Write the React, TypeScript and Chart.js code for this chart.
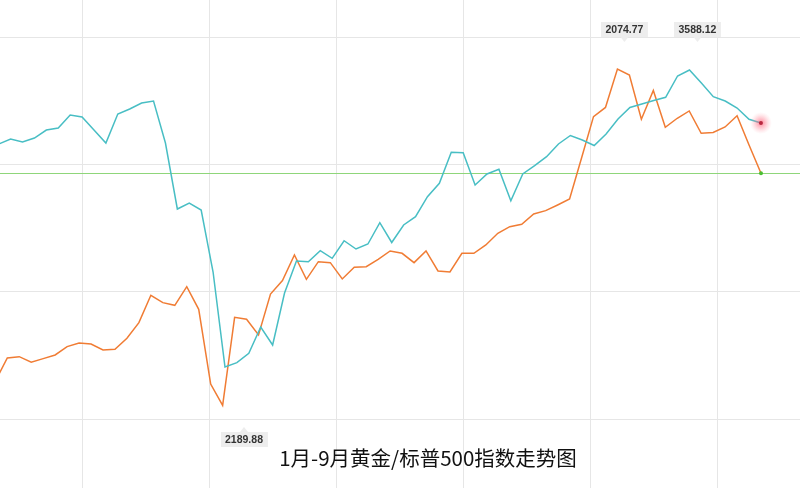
import React, { useEffect, useRef } from "react";
import { Chart, registerables } from "chart.js";

Chart.register(...registerables);

// 标普500 (teal) sampled values, Jan–Sept
const spValues = [
  3239.7, 3263.2, 3249.1, 3268.0, 3305.6, 3315.0, 3376.2, 3366.8, 3305.6, 3244.4,
  3380.9, 3404.5, 3432.7, 3442.2, 3244.4, 2933.7, 2961.9, 2929.0, 2637.1, 2189.88,
  2210.1, 2254.3, 2378.1, 2293.4, 2538.2, 2688.9, 2685.6, 2737.4, 2701.6, 2784.4,
  2745.4, 2768.9, 2869.2, 2776.0, 2858.4, 2897.4, 2991.6, 3054.7, 3200.6, 3198.8,
  3046.7, 3098.5, 3120.6, 2972.8, 3098.5, 3137.5, 3179.9, 3239.7, 3279.7, 3258.5,
  3232.6, 3286.8, 3357.4, 3411.5, 3428.0, 3444.5, 3459.6, 3559.9, 3588.12, 3526.9,
  3462.4, 3442.2, 3409.2, 3356.0, 3338.6,
];

// 黄金 (orange) sampled values, Jan–Sept
const goldValues = [
  1497.6, 1540.1, 1542.6, 1532.2, 1538.9, 1545.7, 1561.1, 1567.9, 1566.0, 1554.9,
  1556.2, 1576.6, 1605.5, 1656.1, 1642.5, 1637.6, 1672.1, 1630.2, 1492.0, 1452.3,
  1615.4, 1611.7, 1582.7, 1658.5, 1683.5, 1730.7, 1685.7, 1718.3, 1716.5, 1686.3,
  1707.9, 1709.1, 1722.7, 1738.1, 1733.8, 1716.5, 1738.1, 1701.1, 1699.2, 1733.8,
  1733.8, 1749.2, 1770.8, 1783.1, 1787.5, 1806.5, 1812.7, 1823.2, 1834.3, 1910.1,
  1986.6, 2003.6, 2074.77, 2063.7, 1981.9, 2035.0, 1966.9, 1983.6, 1997.1, 1955.8,
  1957.3, 1967.5, 1988.4, 1934.2, 1881.8,
];

const spMaxLabel = "3588.12";
const spMinLabel = "2189.88";
const goldMaxLabel = "2074.77";
const titleText = "1月-9月黄金/标普500指数走势图";

const TEAL = "rgb(72,190,196)";
const ORANGE = "rgb(240,124,52)";

function drawTag(ctx: CanvasRenderingContext2D, text: string, cx: number, top: number, arrowUp: boolean) {
  ctx.save();
  ctx.font = 'bold 10.5px "Liberation Sans", Arial, sans-serif';
  const w = ctx.measureText(text).width + 9;
  const h = 15;
  const x = Math.round(cx - w / 2);
  ctx.fillStyle = "rgba(236,236,236,0.97)";
  ctx.fillRect(x, top, w, h);
  ctx.beginPath();
  if (arrowUp) {
    ctx.moveTo(cx - 4, top);
    ctx.lineTo(cx, top - 5);
    ctx.lineTo(cx + 4, top);
  } else {
    ctx.moveTo(cx - 4, top + h);
    ctx.lineTo(cx, top + h + 5);
    ctx.lineTo(cx + 4, top + h);
  }
  ctx.closePath();
  ctx.fill();
  ctx.fillStyle = "#333";
  ctx.textAlign = "center";
  ctx.textBaseline = "middle";
  ctx.fillText(text, cx, top + h / 2 + 0.5);
  ctx.restore();
}

const overlayPlugin = {
  id: "overlay",
  beforeDatasetsDraw(chart: any) {
    const { ctx } = chart;
    const yG = chart.scales.yGold;
    const y = Math.round(yG.getPixelForValue(goldValues[goldValues.length - 1])) + 0.5;
    ctx.save();
    ctx.globalAlpha = 1;
    ctx.setLineDash([]);
    ctx.strokeStyle = "#8fd67a";
    ctx.lineWidth = 1;
    ctx.beginPath();
    ctx.moveTo(0, y);
    ctx.lineTo(chart.width, y);
    ctx.stroke();
    ctx.restore();
  },
  afterDatasetsDraw(chart: any) {
    const { ctx } = chart;
    const spMeta = chart.getDatasetMeta(0);
    const goldMeta = chart.getDatasetMeta(1);
    const spLast = spMeta.data[spValues.length - 1];
    const goldLast = goldMeta.data[goldValues.length - 1];

    ctx.save();
    const g = ctx.createRadialGradient(spLast.x, spLast.y, 0, spLast.x, spLast.y, 11);
    g.addColorStop(0, "rgba(255,70,100,0.65)");
    g.addColorStop(0.5, "rgba(255,120,140,0.35)");
    g.addColorStop(1, "rgba(255,170,180,0)");
    ctx.fillStyle = g;
    ctx.beginPath();
    ctx.arc(spLast.x, spLast.y, 11, 0, Math.PI * 2);
    ctx.fill();
    ctx.fillStyle = "#b8283f";
    ctx.beginPath();
    ctx.arc(spLast.x, spLast.y, 2, 0, Math.PI * 2);
    ctx.fill();
    ctx.fillStyle = "#4cbf32";
    ctx.beginPath();
    ctx.arc(goldLast.x, goldLast.y, 2, 0, Math.PI * 2);
    ctx.fill();
    ctx.restore();

    const spMaxIdx = spValues.indexOf(Math.max(...spValues));
    const spMinIdx = spValues.indexOf(Math.min(...spValues));
    const goldMaxIdx = goldValues.indexOf(Math.max(...goldValues));
    const pMax = spMeta.data[spMaxIdx];
    const pMin = spMeta.data[spMinIdx];
    const gMax = goldMeta.data[goldMaxIdx];
    drawTag(ctx, goldMaxLabel, gMax.x + 7, gMax.y - 47, false);
    drawTag(ctx, spMaxLabel, pMax.x + 8, pMax.y - 48, false);
    drawTag(ctx, spMinLabel, pMin.x + 19, pMin.y + 65, true);

    ctx.save();
    ctx.font = '20.5px "Noto Sans CJK SC", sans-serif';
    ctx.fillStyle = "#111";
    ctx.textAlign = "center";
    ctx.textBaseline = "middle";
    ctx.fillText(titleText, 428, 458);
    ctx.restore();
  },
};

export default function App() {
  const ref = useRef<HTMLCanvasElement | null>(null);

  useEffect(() => {
    document.body.style.margin = "0";
    const canvas = ref.current;
    if (!canvas) return;
    const gridColor = "rgb(230,230,230)";
    const chart = new Chart(canvas, {
      type: "line",
      data: {
        datasets: [
          {
            label: "标普500",
            data: spValues.map((v, i) => ({ x: i, y: v })),
            borderColor: TEAL,
            borderWidth: 1.5,
            pointRadius: 0,
            tension: 0,
            xAxisID: "xSP",
            yAxisID: "ySP",
          },
          {
            label: "黄金",
            data: goldValues.map((v, i) => ({ x: i, y: v })),
            borderColor: ORANGE,
            borderWidth: 1.5,
            pointRadius: 0,
            tension: 0,
            xAxisID: "xGold",
            yAxisID: "yGold",
          },
        ],
      },
      options: {
        animation: false,
        responsive: false,
        maintainAspectRatio: false,
        layout: { padding: 0 },
        plugins: { legend: { display: false }, tooltip: { enabled: false }, title: { display: false } },
        scales: {
          xGrid: {
            type: "linear",
            position: "bottom",
            min: -0.6447,
            max: 5.6447,
            ticks: { display: false, stepSize: 1, includeBounds: false },
            grid: { color: gridColor, drawTicks: false },
            border: { display: false },
          },
          yGrid: {
            type: "linear",
            position: "left",
            min: -0.5433,
            max: 3.2992,
            ticks: { display: false, stepSize: 1, includeBounds: false },
            grid: { color: gridColor, drawTicks: false },
            border: { display: false },
          },
          xSP: { type: "linear", display: false, min: 0.109, max: 67.28 },
          xGold: { type: "linear", display: false, min: 0.3895, max: 67.26 },
          ySP: { type: "linear", display: false, min: 1620.2, max: 3917.7 },
          yGold: { type: "linear", display: false, min: 1299.6, max: 2202.4 },
        },
      },
      plugins: [overlayPlugin],
    });
    return () => chart.destroy();
  }, []);

  return (
    <div style={{ width: 800, height: 488, background: "#fff" }}>
      <canvas ref={ref} width={800} height={488} style={{ display: "block", width: 800, height: 488 }} />
    </div>
  );
}
